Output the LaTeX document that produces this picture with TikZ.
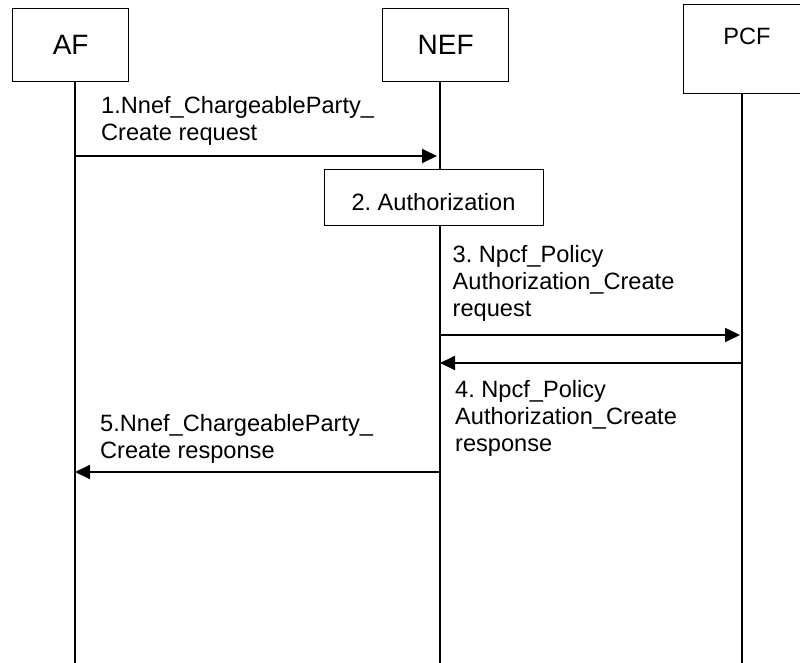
\documentclass[tikz,border=0pt]{standalone}
\usepackage{fontspec}
\setmainfont{Liberation Sans}
\frenchspacing
\usetikzlibrary{arrows.meta,calc}
\begin{document}
\begin{tikzpicture}[x=1pt,y=-1pt,
  lbox/.style={draw, line width=1.3pt, fill=white, inner sep=0pt, anchor=north west},
  life/.style={line width=1.1pt},
  msg/.style={line width=1.8pt, -{Triangle[length=15pt,width=14pt]}},
  lbl/.style={anchor=base west, align=left, inner sep=0pt, font=\fontsize{23.6}{27}\selectfont},
  big/.style={font=\fontsize{28}{32}\selectfont},
  mid/.style={font=\fontsize{23.6}{27}\selectfont},
]
\useasboundingbox (0,0) rectangle (800,663);
\clip (0,0) rectangle (800,663);
\fill[white] (0,0) rectangle (800,663);
% lifeline ends
\coordinate (afb) at (75,663);
\coordinate (nefb) at (440,663);
\coordinate (pcfb) at (742,663);
% entity boxes
\node[lbox, big, minimum width=116pt, minimum height=73pt] (af) at (12,8) {AF};
\node[lbox, big, minimum width=126pt, minimum height=73pt] (nef) at (382,8) {NEF};
\node[lbox, minimum width=130pt, minimum height=89pt] (pcf) at (683,4) {};
\node[mid, anchor=base, inner sep=0pt] (pcft) at (747,45) {PCF};
% lifelines
\draw[life] (af.south -| afb) -- (afb);
\draw[life] (nef.south -| nefb) -- (nefb);
\draw[life] (pcf.south -| pcfb) -- (pcfb);
% step 2 box
\node[lbox, minimum width=219pt, minimum height=56pt] (auth) at (324,169) {};
\node[mid, anchor=base, inner sep=0pt] (autht) at (433.5,210.5) {2. Authorization};
% messages
\draw[msg, shorten >=3pt] (afb |- 0,156) -- (nefb |- 0,156);
\draw[msg, shorten >=2pt] (nefb |- 0,335) -- (pcfb |- 0,335);
\draw[msg] (pcfb |- 0,363) -- (nefb |- 0,363);
\draw[msg] (nefb |- 0,472) -- (afb |- 0,472);
% labels (anchor is the baseline of the last line)
\node[lbl] (t1) at (101,141) {1.Nnef\_ChargeableParty\_\\Create request};
\node[lbl] (t3) at (452.5,316) {3. Npcf\_Policy\\Authorization\_Create\\request};
\node[lbl] (t4) at (455,451) {4. Npcf\_Policy\\Authorization\_Create\\response};
\node[lbl] (t5) at (100,458) {5.Nnef\_ChargeableParty\_\\Create response};
\end{tikzpicture}
\end{document}
